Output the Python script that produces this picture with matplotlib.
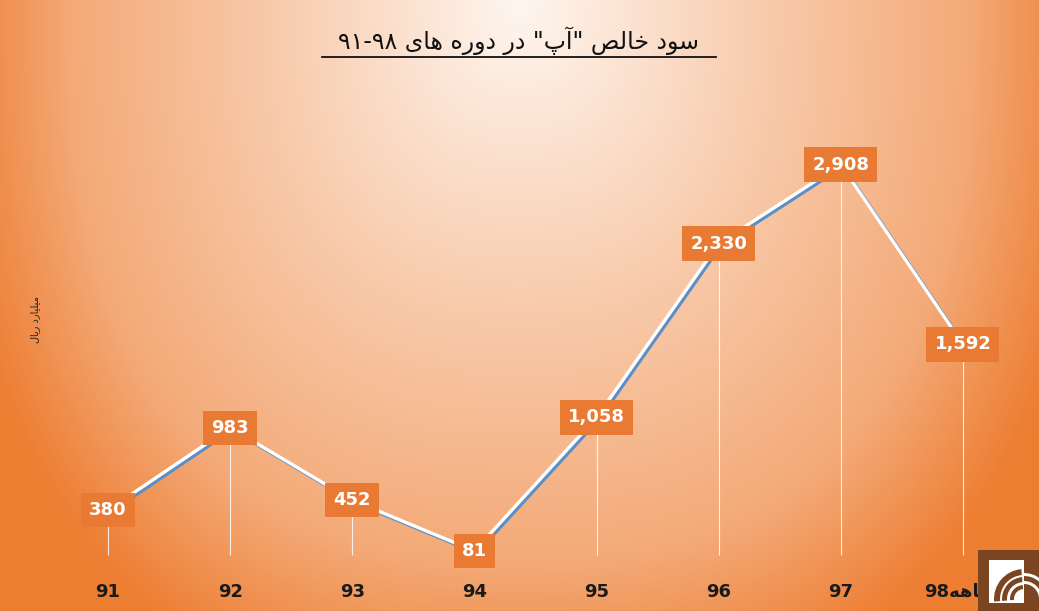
import numpy as np
import matplotlib
matplotlib.use("Agg")
import matplotlib.pyplot as plt
import matplotlib.patheffects as pe
from matplotlib.patches import Rectangle, Wedge

# ---- data ----
categories = ["91", "92", "93", "94", "95", "96", "97", "98\ufeea\ufeeb\ufe8e\ufee3\u06f9"]
values = [380, 983, 452, 81, 1058, 2330, 2908, 1592]
value_labels = ["380", "983", "452", "81", "1,058", "2,330", "2,908", "1,592"]
title_text = "\u06f9\u06f1-\u06f9\u06f8 \ufeef\ufe8e\ufeeb \ufee9\ufead\ufeed\ufea9 \ufead\ufea9 \"\ufb56\ufe81\" \ufeba\ufedf\ufe8e\ufea7 \ufea9\ufeee\ufeb3"
ylabel_text = "\ufedd\ufe8e\ufef3\ufead \ufea9\ufead\ufe8e\ufef4\ufee0\ufef4\ufee3"

W, H = 1039, 611
fig = plt.figure(figsize=(W / 100, H / 100), dpi=100)

# ---- gradient background ----
bg = fig.add_axes([0, 0, 1, 1], zorder=-10)
yy, xx = np.mgrid[0:H, 0:W]
cx, cy = 520, 0
p = 2.5
r = (np.abs((xx - cx) / 0.8) ** p + np.abs(yy - cy) ** p) ** (1 / p)
t = np.interp(r, [0, 300, 560, 720], [0.03, 0.37, 0.64, 1.0])
c0 = np.array([255, 250, 246]) / 255.0
c1 = np.array([237, 125, 49]) / 255.0
img = c0[None, None, :] * (1 - t[..., None]) + c1[None, None, :] * t[..., None]
bg.imshow(img, aspect="auto", extent=[0, W, H, 0])
bg.set_xlim(0, W)
bg.set_ylim(H, 0)
bg.axis("off")

# ---- main axes ----
ax = fig.add_axes([47 / W, 49 / H, (1024 - 47) / W, (562 - 111) / H])
ax.patch.set_alpha(0)
x = np.arange(len(values))
ax.set_xlim(-0.5, len(values) - 0.5)
ax.set_ylim(0, 3300)

# drop lines
ax.vlines(x, 50, values, colors="white", linewidth=0.8, alpha=0.85, zorder=1)

# line with blue shadow
ax.plot(x, values, color="white", linewidth=2.4, zorder=3,
        path_effects=[pe.SimpleLineShadow(offset=(1.6, -1.6), shadow_color="#5B8FC7", alpha=1.0),
                      pe.Normal()])

for xi, v, lab in zip(x, values, value_labels):
    ax.text(xi, v, lab, ha="center", va="center", color="white", fontsize=13,
            fontweight="bold", zorder=5,
            bbox=dict(boxstyle="square,pad=0.45", facecolor="#E97A34", edgecolor="none"))

ax.set_xticks(x)
ax.set_xticklabels(categories, fontsize=13, fontweight="bold", color="#1a1a1a")
ax.tick_params(axis="x", length=0, pad=15)
ax.set_yticks([])
for s in ax.spines.values():
    s.set_visible(False)

# title
fig.text(519 / W, 1 - 41 / H, title_text, ha="center", va="center", fontsize=17,
         color="#111111", family=["DejaVu Sans"])
fig.add_artist(plt.Line2D([322 / W, 716 / W], [1 - 57 / H, 1 - 57 / H], color="#111111", linewidth=1.3))

# y label
fig.text(35 / W, 1 - 320 / H, ylabel_text, rotation=90, ha="center", va="center",
         fontsize=7, color="#222222")

# logo
lg = fig.add_axes([978 / W, 0, (W - 978) / W, (611 - 550) / H])
lg.set_xlim(0, 61)
lg.set_ylim(0, 61)
lg.axis("off")
lg.add_patch(Rectangle((0, 0), 61, 61, facecolor="#7B4522", edgecolor="none"))
lg.add_patch(Rectangle((11, 8), 35, 43, facecolor="white", edgecolor="none"))
for rr, w in [(30, 6), (22, 5), (14, 4)]:
    lg.add_patch(Wedge((46, 12), rr, 95, 185, width=w, facecolor="#7B4522", edgecolor="none"))
for rr, w in [(26, 3), (18, 3)]:
    lg.add_patch(Wedge((46, 12), rr, 0, 95, width=w, facecolor="white", edgecolor="none"))

fig.savefig("out.png", dpi=100)
